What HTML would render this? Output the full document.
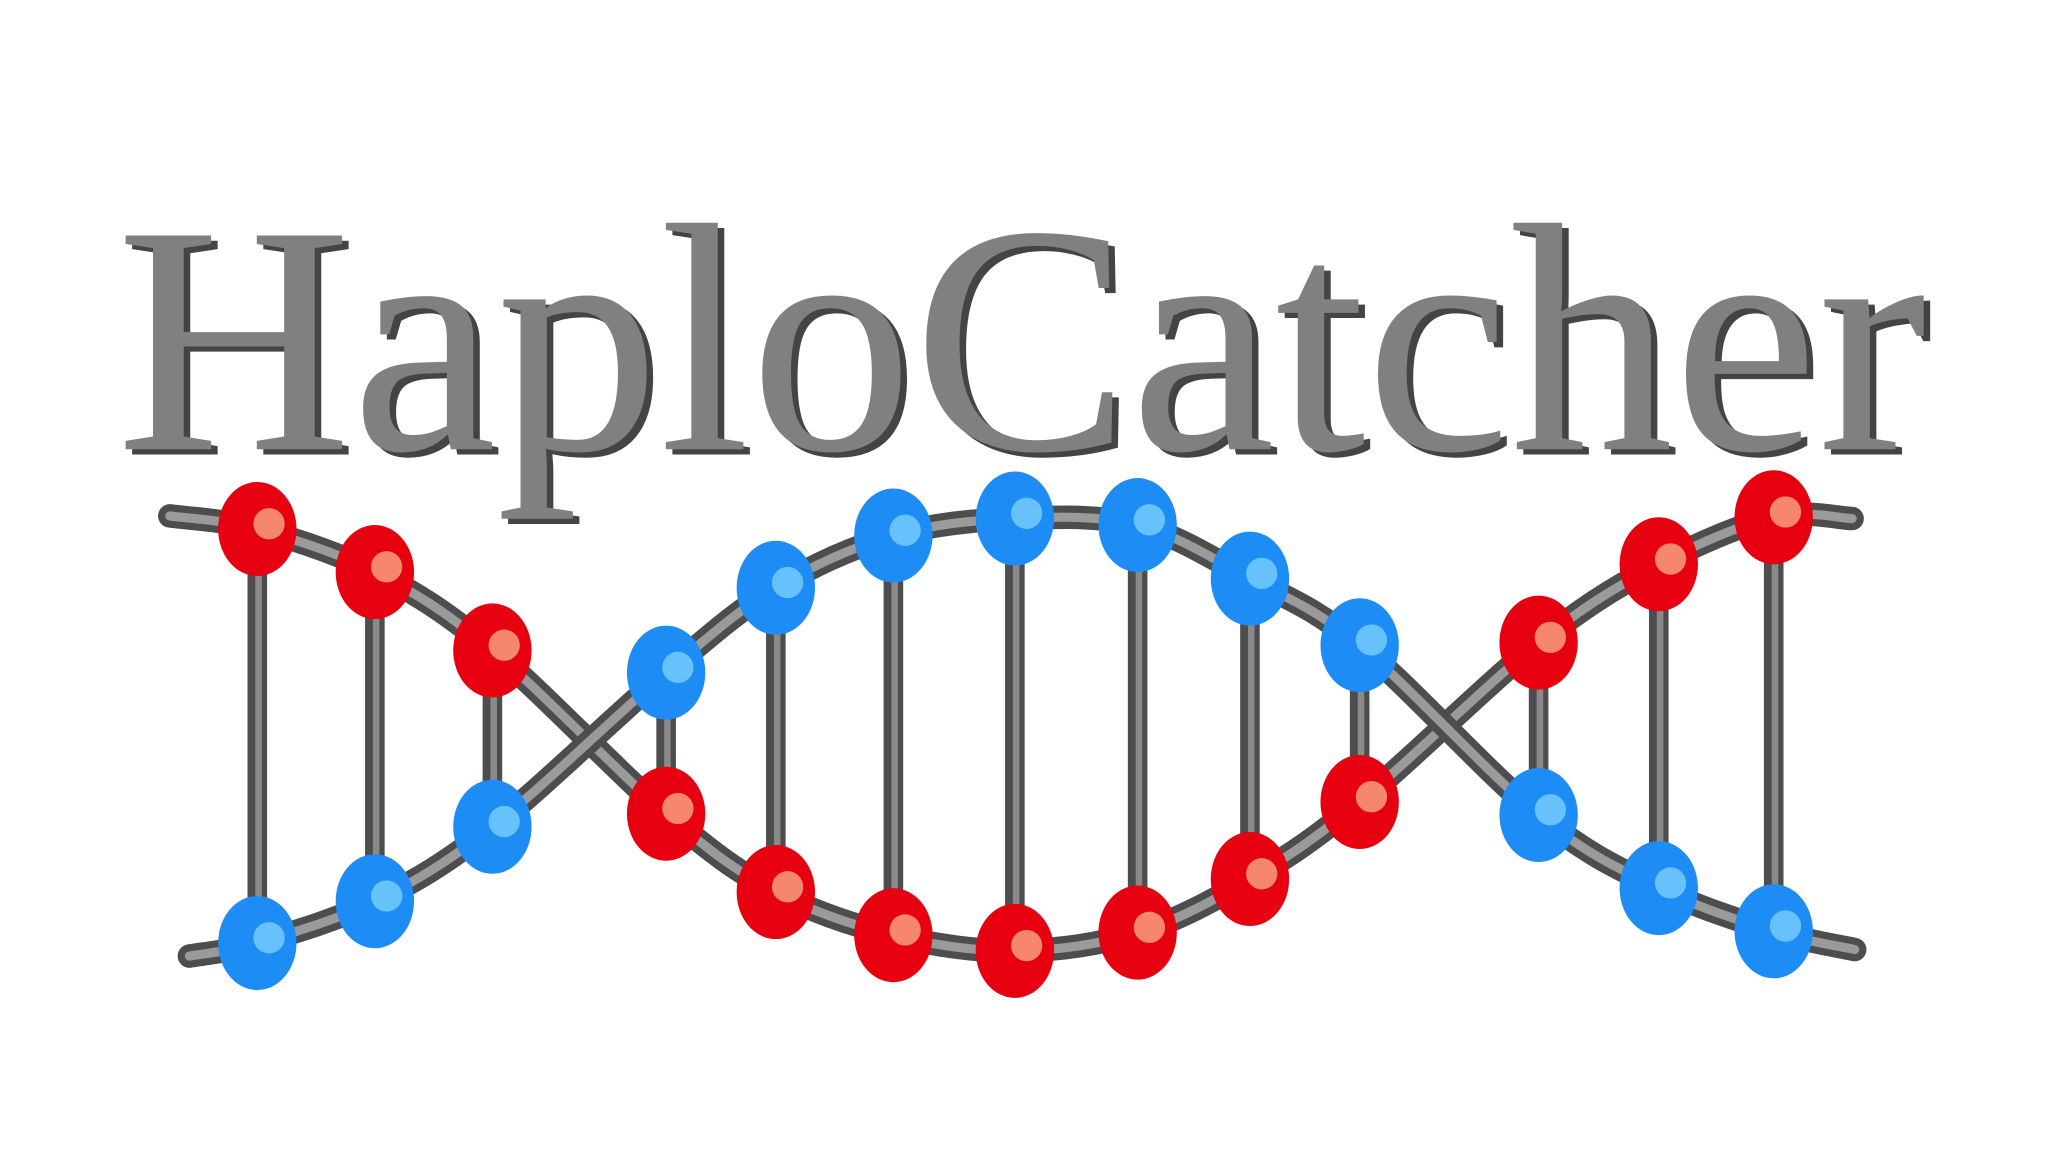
<!DOCTYPE html>
<html><head><meta charset="utf-8"><style>
html,body{margin:0;padding:0;background:#fff;width:2048px;height:1152px;overflow:hidden}
svg{display:block}
</style></head><body>
<svg id="logo" width="2048" height="1152" viewBox="0 0 1568 882" xmlns="http://www.w3.org/2000/svg">
<rect width="1568" height="882" fill="#fff"/>
<g>
<text x="94" y="348" font-family="'Liberation Serif',serif" font-size="250" fill="#444" textLength="1386" lengthAdjust="spacingAndGlyphs">HaploCatcher</text>
<text x="89" y="344" font-family="'Liberation Serif',serif" font-size="250" fill="#808080" textLength="1386" lengthAdjust="spacingAndGlyphs">HaploCatcher</text>
</g>
<g id="dna"></g>
</svg>
<script>
const pairX = [197,287,377,510,594,684,777,871,957,1041,1178,1270,1358];
const topY = [405,438,498,515,450,410,397,402,443,494,492,432,396];
const botY = [722,690,633,623,683,716,728,714,673,614,624,680,713];
const topRed = [1,1,1,0,0,0,0,0,0,0,1,1,1];
const NS='http://www.w3.org/2000/svg';
const g=document.getElementById('dna');
function mk(t,a){const e=document.createElementNS(NS,t);for(const k in a)e.setAttribute(k,a[k]);return e;}
const redPts=[[130,395]], bluePts=[[145,732]];
pairX.forEach((x,i)=>{
  if(topRed[i]){redPts.push([x,topY[i]]);bluePts.push([x,botY[i]]);}
  else{redPts.push([x,botY[i]]);bluePts.push([x,topY[i]]);}
});
redPts.push([1418,397]); bluePts.push([1420,727]);
function smooth(p){
  let d='M'+p[0][0]+','+p[0][1];
  for(let i=0;i<p.length-1;i++){
    const p0=p[Math.max(0,i-1)],p1=p[i],p2=p[i+1],p3=p[Math.min(p.length-1,i+2)];
    const c1=[p1[0]+(p2[0]-p0[0])/6,p1[1]+(p2[1]-p0[1])/6];
    const c2=[p2[0]-(p3[0]-p1[0])/6,p2[1]-(p3[1]-p1[1])/6];
    d+=' C'+c1[0]+','+c1[1]+' '+c2[0]+','+c2[1]+' '+p2[0]+','+p2[1];
  }
  return d;
}
[redPts,bluePts].forEach((p,si)=>{
  const d=smooth(p);
  const o=mk('path',{d:d,fill:'none',stroke:'#4d4d4d','stroke-width':18,'stroke-linecap':'round'});
  
  
  g.appendChild(o);
  const inn=mk('path',{d:d,fill:'none',stroke:'#9a9a9a','stroke-width':7,'stroke-linecap':'round'});
  
  
  g.appendChild(inn);
});
pairX.forEach((x,i)=>{
  const r=mk('line',{x1:x,y1:topY[i],x2:x,y2:botY[i],stroke:'#4d4d4d','stroke-width':15,'stroke-linecap':'round'});
  
  
  g.appendChild(r);
  const ri=mk('line',{x1:x+1,y1:topY[i],x2:x+1,y2:botY[i],stroke:'#8a8a8a','stroke-width':5});
  
  
  g.appendChild(ri);
});
function node(x,y,red){
  const e=mk('ellipse',{cx:x,cy:y,rx:30,ry:36,fill:red?'#e60010':'#1e8cf5'});
  
  
  g.appendChild(e);
  const h=mk('circle',{cx:x+9,cy:y-4,r:12,fill:red?'#f7866e':'#67c1fb'});
  
  
  g.appendChild(h);
}
pairX.forEach((x,i)=>{
  node(x,topY[i],topRed[i]===1);
  node(x,botY[i],topRed[i]!==1);
});
</script>
</body></html>
